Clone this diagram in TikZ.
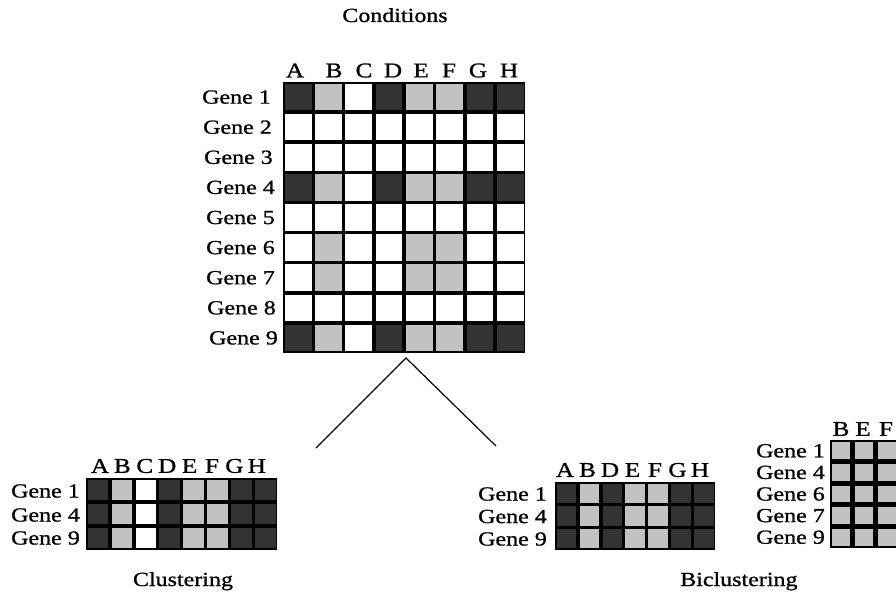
\documentclass[tikz,border=0pt]{standalone}
\usepackage{fontspec}
\setmainfont{Liberation Serif}[FakeStretch=1.2, FakeBold=1]

\definecolor{cellcold}{gray}{0.2}
\definecolor{cellcoll}{gray}{0.76}
\definecolor{cellcolw}{gray}{1}

\tikzset{
  cell/.style={fill=cellcol#1},
  genelabel/.style={anchor=east, inner sep=0pt, font=\fontsize{20}{20}\selectfont},
  collabel/.style={inner sep=0pt, font=\fontsize{21}{21}\selectfont},
  caption/.style={anchor=base, inner sep=0pt, font=\fontsize{20}{20}\selectfont},
  branch/.style={line width=1.2pt},
}

% #1,#2 top-left corner; #3,#4 column/row pitch; #5 inset of each cell;
% #6 columns; #7 rows; #8 list of rows, each a list of d/l/w codes
\newcommand\heatgrid[8]{%
  \fill[black] (#1,#2) rectangle ++({#6*#3},{#7*#4});
  \foreach \rowcodes [count=\r from 0] in {#8} {
    \foreach \c [count=\k from 0] in \rowcodes {
      \path[cell=\c] ({#1+\k*#3+#5},{#2+\r*#4+#5}) rectangle ({#1+(\k+1)*#3-#5},{#2+(\r+1)*#4-#5});
    }
  }%
}

\begin{document}
\begin{tikzpicture}[x=1pt,y=-1pt]
\useasboundingbox (0,0) rectangle (896,599);
\clip (0,0) rectangle (896,599);

% ---- full expression matrix ----
\node[caption] (conditions) at (395,22) {Conditions};
\heatgrid{283}{82}{30.3}{30.1}{1.8}{8}{9}{%
  {d,l,w,d,l,l,d,d},{w,w,w,w,w,w,w,w},{w,w,w,w,w,w,w,w},
  {d,l,w,d,l,l,d,d},{w,w,w,w,w,w,w,w},{w,l,w,w,l,l,w,w},
  {w,l,w,w,l,l,w,w},{w,w,w,w,w,w,w,w},{d,l,w,d,l,l,d,d}}
\foreach \l/\x in {A/295,B/334,C/364,D/393,E/421,F/449,G/478,H/509}
  \node[collabel] (big-\l) at (\x,70.5) {\l};
\foreach \g/\y/\x in {1/97.1/271,2/127.2/272,3/157.3/273,4/187.4/275,5/217.5/275,
                     6/247.6/275,7/277.7/275,8/307.8/276,9/337.9/278}
  \node[genelabel] (big-g\g) at (\x,\y) {Gene \g};

% ---- branches ----
\coordinate (split) at (406,358);
\coordinate (toclust) at (316,448);
\coordinate (tobiclust) at (496,446);
\draw[branch] (toclust) -- (split) -- (tobiclust);

% ---- clustering result ----
\heatgrid{86}{478}{23.9}{24}{1.7}{8}{3}{%
  {d,l,w,d,l,l,d,d},{d,l,w,d,l,l,d,d},{d,l,w,d,l,l,d,d}}
\foreach \l [count=\i from 0] in {A,B,C,D,E,F,G,H}
  \node[collabel] (cl-\l) at ({100+22.4*\i},466) {\l};
\foreach \g/\y in {1/491,4/515,9/538}
  \node[genelabel] (cl-g\g) at (80,\y) {Gene \g};
\node[caption] (clustering) at (183,586) {Clustering};

% ---- biclustering result: genes 1,4,9 ----
\heatgrid{555}{482}{22.9}{22.7}{1.7}{7}{3}{%
  {d,l,d,l,l,d,d},{d,l,d,l,l,d,d},{d,l,d,l,l,d,d}}
\foreach \l [count=\i from 0] in {A,B,D,E,F,G,H}
  \node[collabel] (bi-\l) at ({565+22.5*\i},470) {\l};
\foreach \g/\y in {1/494,4/516.5,9/539}
  \node[genelabel] (bi-g\g) at (547,\y) {Gene \g};
\node[caption, anchor=base west] (biclustering) at (680,586) {Biclustering};

% ---- biclustering result: columns B,E,F ----
\heatgrid{830}{440}{22.7}{21.6}{2.4}{3}{5}{%
  {l,l,l},{l,l,l},{l,l,l},{l,l,l},{l,l,l}}
\foreach \l/\x in {B/841,E/863,F/886}
  \node[collabel] (bc-\l) at (\x,429) {\l};
\foreach \g/\y in {1/450.8,4/472.4,6/494,7/515.6,9/537.2}
  \node[genelabel] (bc-g\g) at (825,\y) {Gene \g};
\end{tikzpicture}
\end{document}
